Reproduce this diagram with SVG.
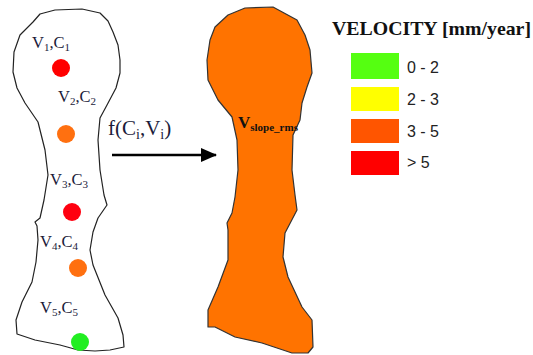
<svg xmlns="http://www.w3.org/2000/svg" width="533" height="355" viewBox="0 0 533 355">
<style>
.outline{fill:#fff;stroke:#222;stroke-width:1.2;stroke-linejoin:round}
.lbl{font-family:"Liberation Serif",serif;font-size:16.5px;fill:#1b1b3a}
.sub{font-size:11px}
.leg{font-family:"Liberation Sans",sans-serif;font-size:16px;fill:#222}
</style>
<defs>
<marker id="ah" markerWidth="16" markerHeight="16" refX="15" refY="8" orient="auto" markerUnits="userSpaceOnUse"><path d="M0,1 L16,8 L0,15 Z" fill="#000"/></marker>
</defs>
<rect width="533" height="355" fill="#fff"/>
<g id="slope-points">
<path class="outline" d="M33,22 L40,14 L55,10 L82,9 L100,13 L108,21 L113,32 L118,45 L120,60 L120,73 L116,88 L107,105 L100,118 L98,140 L100,170 L104,195 L107,205 L98,218 L93,232 L90,250 L93,265 L105,295 L118,318 L123,335 L124,347 L110,350 L95,351 L78,350 L60,345 L35,340 L17,334 L16,320 L22,302 L32,282 L36,262 L38,240 L37,226 L35,222 L40,218 L44,200 L48,175 L45,150 L38,122 L25,103 L17,88 L13,72 L14,52 L20,35 Z"/>
<circle cx="61" cy="68" r="9" fill="#ff0000"/>
<circle cx="66" cy="134" r="9" fill="#ff7010"/>
<circle cx="72" cy="212" r="9" fill="#ff0010"/>
<circle cx="78" cy="268" r="9" fill="#ff7010"/>
<circle cx="80" cy="342" r="9" fill="#22ee22"/>
<text class="lbl" x="32" y="48">V<tspan class="sub" dy="3">1</tspan><tspan dy="-3">,C</tspan><tspan class="sub" dy="3">1</tspan></text>
<text class="lbl" x="58" y="102">V<tspan class="sub" dy="3">2</tspan><tspan dy="-3">,C</tspan><tspan class="sub" dy="3">2</tspan></text>
<text class="lbl" x="50" y="185">V<tspan class="sub" dy="3">3</tspan><tspan dy="-3">,C</tspan><tspan class="sub" dy="3">3</tspan></text>
<text class="lbl" x="40" y="247">V<tspan class="sub" dy="3">4</tspan><tspan dy="-3">,C</tspan><tspan class="sub" dy="3">4</tspan></text>
<text class="lbl" x="40" y="313">V<tspan class="sub" dy="3">5</tspan><tspan dy="-3">,C</tspan><tspan class="sub" dy="3">5</tspan></text>
</g>
<g id="connectors">
<line x1="112" y1="155" x2="216" y2="155" stroke="#000" stroke-width="2.5" marker-end="url(#ah)"/>
<text x="108" y="135" font-family="Liberation Serif,serif" font-size="21" fill="#1b1b3a">f(C<tspan font-size="14" dy="4">i</tspan><tspan dy="-4">,V</tspan><tspan font-size="14" dy="4">i</tspan><tspan dy="-4">)</tspan></text>
</g>
<g id="slope-velocity">
<path d="M210,40 L215,27 L228,15 L245,8 L273,7 L297,20 L305,35 L310,50 L312,73 L307,87 L302,103 L300,120 L293,135 L292,170 L295,195 L297,210 L285,233 L283,257 L288,277 L302,307 L312,320 L313,347 L308,353 L292,353 L262,343 L235,337 L215,327 L208,327 L208,310 L218,287 L228,260 L228,230 L227,223 L232,213 L235,197 L238,170 L237,140 L232,117 L218,100 L208,80 L207,60 Z" fill="#ff7300" stroke="#333" stroke-width="1.2" stroke-linejoin="round"/>
<text x="238" y="128" font-family="Liberation Serif,serif" font-weight="bold" font-size="17" fill="#111">V<tspan font-size="11" dy="3">slope_rms</tspan></text>
</g>
<g id="legend">
<text x="332" y="35" font-family="Liberation Serif,serif" font-weight="bold" font-size="19" fill="#111" textLength="199" lengthAdjust="spacingAndGlyphs">VELOCITY [mm/year]</text>
<rect x="351" y="53" width="48" height="26" fill="#55ff11"/>
<rect x="351" y="87" width="48" height="24" fill="#ffff00"/>
<rect x="351" y="119" width="48" height="24" fill="#ff5500"/>
<rect x="351" y="151" width="48" height="24" fill="#ff0000"/>
<text class="leg" x="407" y="73">0 - 2</text>
<text class="leg" x="407" y="105">2 - 3</text>
<text class="leg" x="407" y="137">3 - 5</text>
<text class="leg" x="407" y="168">&gt; 5</text>
</g>
</svg>
